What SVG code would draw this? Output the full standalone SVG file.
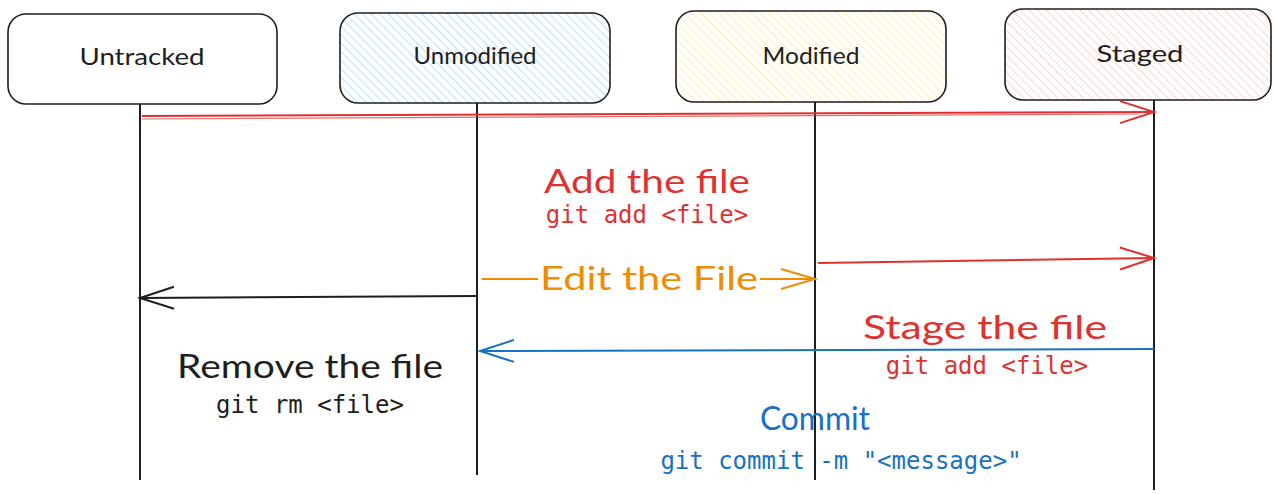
<svg xmlns="http://www.w3.org/2000/svg" width="1274" height="494" viewBox="0 0 1274 494">
<style>
.box{stroke:#1e1e1e;stroke-width:1.6;}
.life{stroke:#1e1e1e;stroke-width:2;fill:none;}
.lbl{font-family:"Lato","Liberation Sans",sans-serif;font-size:23px;fill:#1e1e1e;text-anchor:middle;}
.hand{font-family:"Lato","Liberation Sans",sans-serif;font-size:32px;text-anchor:middle;}
.mono{font-family:"DejaVu Sans Mono","Liberation Mono",monospace;font-size:24px;text-anchor:middle;}
.red{fill:#e03131;}
.blue{fill:#1971c2;}
.org{fill:#f08c00;}
.blk{fill:#1e1e1e;}
</style>
<defs>
<pattern id="hb" patternUnits="userSpaceOnUse" width="6" height="6" patternTransform="rotate(-45)"><rect width="6" height="6" fill="#fff"/><line x1="0" y1="0" x2="0" y2="6" stroke="#a5d8ff" stroke-width="1.6"/></pattern>
<pattern id="hy" patternUnits="userSpaceOnUse" width="6" height="6" patternTransform="rotate(-45)"><rect width="6" height="6" fill="#fff"/><line x1="0" y1="0" x2="0" y2="6" stroke="#ffec99" stroke-width="1.6"/></pattern>
<pattern id="hp" patternUnits="userSpaceOnUse" width="6" height="6" patternTransform="rotate(-45)"><rect width="6" height="6" fill="#fff"/><line x1="0" y1="0" x2="0" y2="6" stroke="#ffc9c9" stroke-width="1.6"/></pattern>
<marker id="mr" markerUnits="userSpaceOnUse" markerWidth="40" markerHeight="30" refX="36" refY="15" orient="auto"><path d="M2,4 L36,15 L2,26" fill="none" stroke="#e03131" stroke-width="2"/></marker>
<marker id="mo" markerUnits="userSpaceOnUse" markerWidth="40" markerHeight="30" refX="36" refY="15" orient="auto"><path d="M2,5 L36,15 L2,25" fill="none" stroke="#f08c00" stroke-width="2"/></marker>
<marker id="mk" markerUnits="userSpaceOnUse" markerWidth="40" markerHeight="30" refX="36" refY="15" orient="auto"><path d="M2,4 L36,15 L2,26" fill="none" stroke="#1e1e1e" stroke-width="2"/></marker>
<marker id="mb" markerUnits="userSpaceOnUse" markerWidth="40" markerHeight="30" refX="36" refY="15" orient="auto"><path d="M2,4 L36,15 L2,26" fill="none" stroke="#1971c2" stroke-width="2"/></marker>
</defs>
<rect width="1274" height="494" fill="#fff"/>
<g id="untracked">
<rect class="box" x="8" y="14" width="269" height="90" rx="18" fill="#fff"/>
<text class="lbl" x="142" y="65" textLength="125" lengthAdjust="spacingAndGlyphs">Untracked</text>
<line class="life" x1="140" y1="104" x2="140" y2="480"/>
</g>
<g id="unmodified">
<rect class="box" x="340" y="13" width="270" height="90" rx="18" fill="url(#hb)"/>
<text class="lbl" x="475" y="64" textLength="123" lengthAdjust="spacingAndGlyphs">Unmodified</text>
<line class="life" x1="477" y1="103" x2="477" y2="475"/>
</g>
<g id="modified">
<rect class="box" x="676" y="11" width="270" height="91" rx="18" fill="url(#hy)"/>
<text class="lbl" x="811" y="64" textLength="97" lengthAdjust="spacingAndGlyphs">Modified</text>
<line class="life" x1="815" y1="102" x2="815" y2="480"/>
</g>
<g id="staged">
<rect class="box" x="1005" y="9" width="266" height="91" rx="18" fill="url(#hp)"/>
<text class="lbl" x="1140" y="62" textLength="87" lengthAdjust="spacingAndGlyphs">Staged</text>
<line class="life" x1="1154" y1="100" x2="1154" y2="490"/>
</g>
<g id="connectors" fill="none" stroke-width="2">
<line x1="142" y1="116" x2="1154" y2="112" stroke="#e03131" marker-end="url(#mr)"/>
<line x1="142" y1="119" x2="1140" y2="114" stroke="#e03131" stroke-width="1.2" opacity="0.7"/>
<line x1="482" y1="279" x2="538" y2="279" stroke="#f08c00"/>
<line x1="760" y1="279" x2="815" y2="279" stroke="#f08c00" marker-end="url(#mo)"/>
<line x1="818" y1="263" x2="1154" y2="258" stroke="#e03131" marker-end="url(#mr)"/>
<line x1="477" y1="296" x2="140" y2="298" stroke="#1e1e1e" marker-end="url(#mk)"/>
<line x1="1154" y1="349" x2="480" y2="351" stroke="#1971c2" marker-end="url(#mb)"/>
</g>
<g id="labels">
<text class="hand red" x="647" y="193" textLength="206" lengthAdjust="spacingAndGlyphs">Add the file</text>
<text class="mono red" x="647" y="223">git add &lt;file&gt;</text>
<text class="hand org" x="649" y="290" textLength="218" lengthAdjust="spacingAndGlyphs">Edit the File</text>
<text class="hand red" x="985" y="339" textLength="244" lengthAdjust="spacingAndGlyphs">Stage the file</text>
<text class="mono red" x="987" y="374">git add &lt;file&gt;</text>
<text class="hand blk" x="310" y="378" textLength="266" lengthAdjust="spacingAndGlyphs">Remove the file</text>
<text class="mono blk" x="310" y="413">git rm &lt;file&gt;</text>
<text class="hand blue" x="815" y="430" textLength="110" lengthAdjust="spacingAndGlyphs">Commit</text>
<text class="mono blue" x="841" y="469">git commit -m "&lt;message&gt;"</text>
</g>
</svg>
